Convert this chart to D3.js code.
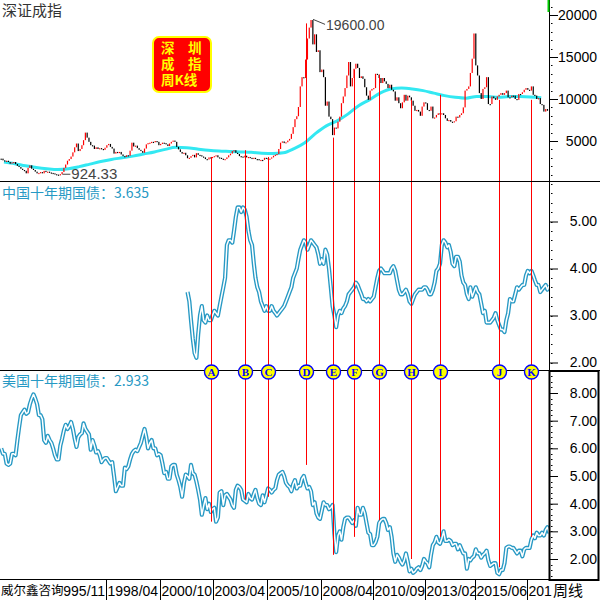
<!DOCTYPE html>
<html><head><meta charset="utf-8">
<script src="https://cdn.jsdelivr.net/npm/d3@7"></script>
<style>body{margin:0;background:#fff}svg{display:block}</style>
</head><body>
<script>
// ---------- DATA ----------
const szStart = "1993-05";           // monthly closes, Shenzhen Component
const szClose = [
 2900,2700,2550,2650,2500,2300,2450,2500,
 2250,2050,1900,1700,1550,1450,1150,1800,2100,1700,1550,1350,
 1150,1200,1300,1150,1450,1300,1350,1250,1200,1150,1050,1000,
 940,1050,1300,1800,2200,2650,2850,3150,3650,4250,4700,3800,
 4050,4500,5100,6000,5400,4900,4500,4450,4050,4250,4050,4150,
 4050,3950,4200,4500,4650,4300,4100,3500,3700,3600,3700,3400,
 3200,3100,3300,3250,3850,4800,4350,4450,4150,3950,3800,3600,
 4100,4600,4750,4800,4900,4850,5000,4900,4500,4650,4800,4750,
 4600,4400,4700,4900,5050,4900,4300,4000,3700,3500,3600,3300,
 2950,3000,3200,3350,3050,3550,3350,3300,3150,3050,2850,2800,
 3050,3050,3100,3200,3300,3050,3000,2900,2750,2850,3050,3300,
 3500,3800,3900,3600,3450,3200,3150,3050,3250,3050,3100,3000,
 2850,3000,2850,2850,2700,2750,2750,3000,2950,2850,2900,3050,
 3250,3350,3450,4050,4800,4950,4750,4850,5050,5250,5850,6650,
 7600,7950,9050,11500,12600,12500,14700,17200,18500,19400,16500,17700,
 15600,15800,13200,13500,12600,9200,9700,7900,7600,5700,6600,6500,
 7300,7900,9500,10300,11300,12800,14400,11500,12500,13600,14200,13700,
 12500,12700,12400,11400,10400,9900,11000,11200,11300,13000,12900,12500,
 11900,12500,12100,11800,11300,11700,11100,10900,9800,10200,9500,8900,
 9600,10500,9800,10400,10200,9800,9200,8600,8700,8500,8000,9100,
 9600,9500,8700,8600,9100,7700,7800,8100,8300,8200,8300,8100,
 7700,7400,7500,7300,7300,7350,7900,7800,8100,8300,9000,11000,
 11200,11500,13100,14800,17800,14000,12800,10700,10000,11200,11400,12600,
 9400,9400,10300,10100,9900,10300,10500,10700,10500,10700,11000,10200,
 10200,10400,10400,10000,9900,10600,10600,10800,11100,11300,11100,11000,
 11500,10500,10400,10000,10100,9400,9300,8500,8800,8600
];
const maStart = "1993-07";           // half-yearly points of the long moving average
const maValues = [2500,2300,2050,1850,1700,1600,1700,1950,2250,2550,2800,3000,3200,3450,3700,4000,4250,4200,4050,3900,
 3800,3750,3700,3650,3550,3500,3600,4100,4800,5900,6800,7400,8200,9200,9900,10700,11200,11300,11200,11000,
 10700,10400,10200,10100,10300,10300,10200,10300,10300,10250,10150];
const szHighDate = "2007-10", szHighValue = 19600.00;
const szLowDate = "1996-02", szLowValue = 924.33;

const cnStart = "2002-01";           // China 10Y yield, monthly
const cnYield = [
 3.5,3.3,2.9,2.5,2.2,2.1,2.6,3.0,3.2,2.9,2.85,3.0,
 2.9,2.9,3.0,3.1,3.05,3.0,3.2,3.4,3.6,3.8,4.5,4.6,
 4.6,4.55,4.8,5.1,5.3,5.3,5.2,5.3,5.25,5.1,4.8,4.6,
 4.5,4.1,3.8,3.6,3.5,3.3,3.2,3.1,3.2,3.1,3.1,3.2,
 3.1,3.05,3.0,3.05,3.1,3.15,3.2,3.3,3.4,3.5,3.6,3.8,
 3.9,4.0,4.2,4.4,4.5,4.6,4.55,4.4,4.5,4.6,4.55,4.5,
 4.45,4.3,4.1,4.2,4.1,4.4,4.3,4.0,3.6,3.2,3.0,2.75,
 3.0,3.1,3.05,3.15,3.2,3.3,3.45,3.5,3.55,3.6,3.7,3.65,
 3.55,3.45,3.35,3.35,3.3,3.35,3.3,3.35,3.4,3.6,3.8,3.95,
 4.0,3.95,3.9,3.9,3.9,3.9,4.0,4.05,3.95,3.75,3.55,3.45,
 3.45,3.5,3.55,3.45,3.3,3.25,3.35,3.45,3.5,3.55,3.55,3.55,
 3.6,3.6,3.55,3.45,3.45,3.55,3.7,3.95,4.0,4.1,4.5,4.6,
 4.55,4.45,4.5,4.35,4.1,4.05,4.25,4.25,4.15,3.85,3.7,3.65,
 3.45,3.35,3.6,3.4,3.5,3.6,3.5,3.45,3.25,3.05,3.1,2.85,
 2.85,2.85,2.9,2.95,3.05,2.9,2.8,2.7,2.7,2.65,2.9,3.05,
 3.35,3.3,3.3,3.45,3.6,3.55,3.6,3.65,3.65,3.85,3.95,3.9,
 3.95,3.85,3.75,3.65,3.65,3.5,3.55,3.6,3.65,3.55,3.635
];
const usStart = "1993-05";           // US 10Y yield, monthly
const usYield = [
 6.0,5.8,5.8,5.45,5.4,5.45,5.8,5.8,
 5.75,6.3,6.75,7.2,7.3,7.4,7.25,7.3,7.6,7.8,7.95,7.8,
 7.6,7.2,7.2,7.05,6.3,6.2,6.45,6.3,6.2,6.0,5.75,5.6,
 5.6,6.1,6.35,6.65,6.85,6.7,6.8,6.95,6.7,6.35,6.05,6.4,
 6.5,6.55,6.9,6.7,6.6,6.5,5.95,6.3,6.1,5.85,5.9,5.75,
 5.5,5.6,5.65,5.65,5.55,5.45,5.5,5.0,4.45,4.6,4.75,4.65,
 4.65,5.3,5.25,5.35,5.6,5.8,5.9,5.95,5.9,6.05,6.2,6.45,
 6.7,6.4,6.0,6.2,6.3,6.0,6.0,5.75,5.8,5.75,5.45,5.1,
 5.15,4.9,4.9,5.35,5.4,5.4,5.05,4.85,4.6,4.25,4.75,5.05,
 5.0,4.9,5.4,5.1,5.05,4.8,4.5,4.15,3.6,3.9,4.2,3.8,
 4.0,3.7,3.8,3.85,3.35,3.5,4.4,4.45,3.95,4.3,4.35,4.25,
 4.15,3.95,3.85,4.5,4.65,4.6,4.5,4.15,4.1,4.05,4.35,4.2,
 4.15,4.35,4.5,4.2,4.0,3.95,4.3,4.05,4.3,4.55,4.5,4.4,
 4.5,4.55,4.85,5.05,5.1,5.15,5.0,4.75,4.65,4.6,4.45,4.7,
 4.85,4.55,4.65,4.65,4.9,5.0,4.75,4.55,4.6,4.45,3.95,4.05,
 3.65,3.5,3.45,3.75,4.05,3.95,3.95,3.8,3.85,3.95,2.9,2.25,
 2.85,3.0,2.7,3.15,3.45,3.5,3.5,3.4,3.3,3.4,3.2,3.85,
 3.6,3.6,3.85,3.65,3.3,2.95,2.9,2.5,2.5,2.6,2.8,3.3,
 3.4,3.45,3.45,3.3,3.05,3.15,2.8,2.2,1.9,2.15,2.05,1.9,
 1.8,1.95,2.2,1.9,1.55,1.65,1.5,1.55,1.65,1.7,1.6,1.75,
 2.0,1.9,1.85,1.7,2.15,2.5,2.6,2.8,2.6,2.55,2.75,3.0,
 2.65,2.65,2.7,2.65,2.5,2.55,2.55,2.35,2.5,2.35,2.2,2.2,
 1.65,2.0,1.95,2.05,2.1,2.35,2.2,2.2,2.05,2.15,2.2,2.3,
 1.95,1.75,1.8,1.85,1.85,1.5,1.45,1.6,1.6,1.85,2.4,2.45,
 2.45,2.4,2.4,2.3,2.2,2.3,2.3,2.1,2.35,2.4,2.4,2.4,
 2.7,2.85,2.75,2.95,2.85,2.85,2.95,2.85,3.05,3.15,2.933
];
const eventLabels = ["A","B","C","D","E","F","G","H","I","J","K"];
const eventDates  = ["2003-02","2004-09","2005-10","2007-07","2008-10","2009-10","2010-12","2012-06","2013-10","2016-07","2018-01"];
const eventIndex  = [3100,3900,3100,19000,5400,13500,12900,9900,10500,9900,9900];
const eventUS     = [3.35,4.15,4.25,5.4,2.15,2.8,3.4,2.0,2.8,1.7,2.8];
const dateTicks = ["1995-11","1998-04","2000-10","2003-04","2005-10","2008-04","2010-09","2013-02","2015-06","2017-11"];
const topTicks = [5000,10000,15000,20000];
const midTicks = [2,3,4,5];
const botTicks = [2,3,4,5,6,7,8];

// ---------- CHART ----------
const W = 600, H = 600, plotR = 549;
const parseM = d3.timeParse("%Y-%m");
const mid = m => d3.timeDay.offset(m, 14);
const sans = "'Liberation Sans', Arial, sans-serif";
const cjk = "'Noto Sans CJK SC', sans-serif";
const svg = d3.select("body").append("svg").attr("width", W).attr("height", H).style("font-family", sans);

const x = d3.scaleTime().domain([new Date(1993,3,25), new Date(2018,10,10)]).range([0, plotR]);
const yTop = d3.scaleLinear().domain([0, 20000]).range([183, 15]);
const yMid = d3.scaleLinear().domain([2, 5]).range([362.5, 221.5]);
const yBot = d3.scaleLinear().domain([2, 8]).range([559, 393]);

const monthSeries = (start, vals) => vals.map((v, i) => ({d: mid(d3.timeMonth.offset(parseM(start), i)), v}));
const sz = monthSeries(szStart, szClose);
const ma = maValues.map((v, i) => ({d: d3.timeMonth.offset(parseM(maStart), i * 6), v}));
const cn = monthSeries(cnStart, cnYield);
const us = monthSeries(usStart, usYield);

const defs = svg.append("defs");
defs.append("clipPath").attr("id", "cTop").append("rect").attr("x", 0).attr("y", 0).attr("width", plotR).attr("height", 181);
defs.append("clipPath").attr("id", "cMid").append("rect").attr("x", 0).attr("y", 182).attr("width", plotR).attr("height", 188);
defs.append("clipPath").attr("id", "cBot").append("rect").attr("x", 0).attr("y", 371).attr("width", plotR).attr("height", 208);

// --- top panel: candles from previous close to close
const gTop = svg.append("g").attr("clip-path", "url(#cTop)");
gTop.append("path").datum(ma)
  .attr("d", d3.line().x(d => x(d.d)).y(d => yTop(d.v)).curve(d3.curveMonotoneX))
  .attr("fill", "none").attr("stroke", "#33e8f2").attr("stroke-width", 3);
gTop.selectAll("rect.c").data(sz).join("rect")
  .attr("x", d => x(d.d) - 0.6).attr("width", 1.2)
  .attr("y", (d, i) => { const o = i ? sz[i-1].v : d.v; return yTop(Math.max(o, d.v)); })
  .attr("height", (d, i) => { const o = i ? sz[i-1].v : d.v; return Math.max(1.2, Math.abs(yTop(o) - yTop(d.v))); })
  .attr("fill", (d, i) => (i && d.v > sz[i-1].v) ? "#ff0000" : "#000");

// extreme labels
const hx = x(mid(parseM(szHighDate))), hy = yTop(szHighValue);
svg.append("line").attr("x1", hx + 2).attr("y1", hy + 1).attr("x2", hx + 14).attr("y2", hy + 6).attr("stroke", "#444");
svg.append("text").attr("x", hx + 15).attr("y", hy + 12).attr("font-size", 14).attr("fill", "#444").text(d3.format(".2f")(szHighValue));
const lx = x(mid(parseM(szLowDate))), ly = yTop(szLowValue);
svg.append("line").attr("x1", lx + 2).attr("y1", ly - 1).attr("x2", lx + 10).attr("y2", ly - 1).attr("stroke", "#444");
svg.append("text").attr("x", lx + 11).attr("y", ly + 4).attr("font-size", 15).attr("fill", "#444").text(d3.format(".2f")(szLowValue));

// --- bond panels (hollow thick line)
const teal = "#2799c4";
function hollow(g, data, y) {
  const line = d3.line().x(d => x(d.d)).y(d => y(d.v));
  g.append("path").datum(data).attr("d", line).attr("fill", "none").attr("stroke", teal).attr("stroke-width", 4.2).attr("stroke-linejoin", "round");
  g.append("path").datum(data).attr("d", line).attr("fill", "none").attr("stroke", "#fff").attr("stroke-width", 1.5).attr("stroke-linejoin", "round");
}
hollow(svg.append("g").attr("clip-path", "url(#cMid)"), cn, yMid);
hollow(svg.append("g").attr("clip-path", "url(#cBot)"), us, yBot);

// --- event lines and markers
const ev = eventLabels.map((l, i) => ({l, d: mid(parseM(eventDates[i])), top: eventIndex[i], bot: eventUS[i]}));
svg.selectAll("line.ev").data(ev).join("line")
  .attr("x1", d => Math.round(x(d.d)) + 0.5).attr("x2", d => Math.round(x(d.d)) + 0.5)
  .attr("y1", d => yTop(d.top)).attr("y2", d => yBot(d.bot))
  .attr("stroke", "#ff0000").attr("stroke-width", 1);

// --- frame lines
svg.append("line").attr("x1", 0).attr("x2", W).attr("y1", 181.5).attr("y2", 181.5).attr("stroke", "#000");
svg.append("line").attr("x1", 0).attr("x2", W).attr("y1", 370.5).attr("y2", 370.5).attr("stroke", "#000");
svg.append("line").attr("x1", 549.5).attr("x2", 549.5).attr("y1", 0).attr("y2", 371).attr("stroke", "#000");
svg.append("rect").attr("x", 549.5).attr("y", 371).attr("width", 49).attr("height", 209).attr("fill", "none").attr("stroke", "#000").attr("stroke-width", 2);
svg.append("line").attr("x1", 548.5).attr("x2", 548.5).attr("y1", 0).attr("y2", 12).attr("stroke", "#0c0").attr("stroke-width", 2);

// markers
const mk = svg.selectAll("g.mk").data(ev).join("g").attr("transform", d => `translate(${Math.round(x(d.d)) + 0.5},372)`);
mk.append("circle").attr("r", 7).attr("fill", "#ffff00").attr("stroke", "#0000ff").attr("stroke-width", 1.4);
mk.append("text").attr("text-anchor", "middle").attr("y", 4).attr("font-size", 11).attr("font-weight", "bold")
  .attr("font-family", "'Liberation Serif', serif").attr("fill", "#0000ff").text(d => d.l);

// --- right axes
function rightAxis(y, ticks, fmt, minorStep, y0, y1) {
  const g = svg.append("g").attr("transform", `translate(${plotR + 1},0)`);
  g.call(d3.axisRight(y).tickValues(ticks).tickFormat(fmt).tickSize(8).tickPadding(0));
  g.select(".domain").remove();
  g.selectAll(".tick line").attr("stroke", "#000");
  g.selectAll(".tick text").attr("text-anchor", "end").attr("x", 47).attr("font-size", 14).attr("fill", "#000")
    .attr("font-family", sans);
  const lo = y.invert(y1), hi = y.invert(y0);
  const minors = d3.range(Math.ceil(lo / minorStep) * minorStep, hi, minorStep).filter(v => y(v) > y0 && y(v) < y1);
  g.selectAll("rect.mn").data(minors).join("rect").attr("x", 1).attr("y", v => Math.round(y(v))).attr("width", 1.5).attr("height", 1).attr("fill", "#000");
}
rightAxis(yTop, topTicks, d3.format("d"), 1000, 2, 180);
rightAxis(yMid, midTicks, d3.format(".2f"), 0.2, 183, 369);
rightAxis(yBot, botTicks, d3.format(".2f"), 0.2, 373, 578);

// --- bottom date axis
svg.append("line").attr("x1", 0).attr("x2", plotR).attr("y1", 579.5).attr("y2", 579.5).attr("stroke", "#000");
const fmtD = d3.timeFormat("%Y/%m");
const firstFree = 63;
dateTicks.forEach(t => {
  const px = Math.round(x(parseM(t))) + 0.5;
  if (px > firstFree) svg.append("line").attr("x1", px).attr("x2", px).attr("y1", 579).attr("y2", 600).attr("stroke", "#000");
  const tx = svg.append("text").attr("x", px + 1).attr("y", 596).attr("font-size", 14).attr("fill", "#000");
  let s = fmtD(parseM(t));
  tx.text(s);
  // trim characters hidden behind the left caption or beyond the axis end
  while (s.length > 1 && tx.node().getBBox().x < firstFree) {
    const w0 = tx.node().getComputedTextLength();
    s = s.slice(1); tx.text(s);
    tx.attr("x", +tx.attr("x") + (w0 - tx.node().getComputedTextLength()));
  }
  while (s.length > 1 && +tx.attr("x") + tx.node().getComputedTextLength() > plotR + 4) { s = s.slice(0, -1); tx.text(s); }
});
svg.append("text").attr("x", 1).attr("y", 595).attr("font-size", 12.5).attr("fill", "#000").attr("font-family", cjk).text("威尔鑫咨询");
svg.append("text").attr("x", 553).attr("y", 596).attr("font-size", 15).attr("fill", "#000").attr("font-family", cjk).text("周线");

// --- titles
svg.append("text").attr("x", 2).attr("y", 16).attr("font-size", 15).attr("fill", "#333").attr("font-family", cjk).text("深证成指");
svg.append("text").attr("x", 2).attr("y", 198).attr("font-size", 14).attr("fill", teal).attr("font-family", cjk)
  .text("中国十年期国债：" + d3.format(".3f")(cnYield[cnYield.length - 1]));
svg.append("text").attr("x", 2).attr("y", 386).attr("font-size", 14).attr("fill", teal).attr("font-family", cjk)
  .text("美国十年期国债：" + d3.format(".3f")(usYield[usYield.length - 1]));

// --- legend badge
const bg = svg.append("g").attr("transform", "translate(153,37)");
bg.append("rect").attr("width", 58).attr("height", 55).attr("rx", 6).attr("fill", "#ff0000").attr("stroke", "#ffff00").attr("stroke-width", 2);
["深\u2003圳", "成\u2003指", "周K线"].forEach((r, i) => {
  bg.append("text").attr("x", 8).attr("y", 16 + i * 16).attr("font-size", 13.5).attr("font-weight", "bold")
    .attr("fill", "#ffff00").attr("font-family", cjk).text(r);
});
</script>
</body></html>
